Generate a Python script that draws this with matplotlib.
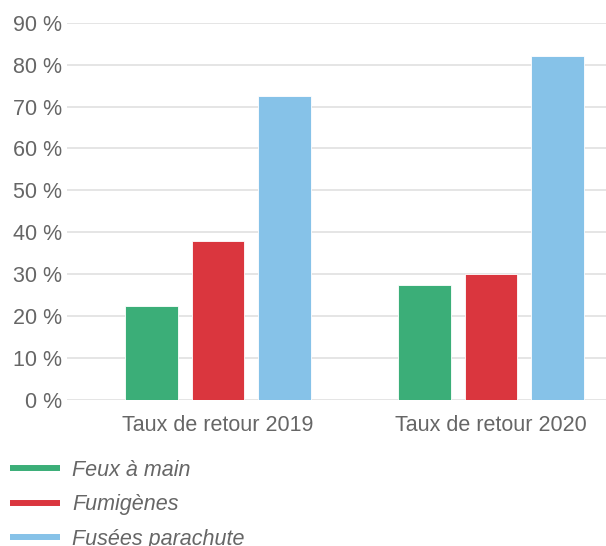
import matplotlib.pyplot as plt
import numpy as np
from matplotlib.lines import Line2D

plt.rcParams['font.family'] = ['Liberation Sans', 'DejaVu Sans']

categories = ['Taux de retour 2019', 'Taux de retour 2020']
series = ['Feux à main', 'Fumigènes', 'Fusées parachute']
feux = [22.4, 27.4]
fumigenes = [37.9, 30.1]
fusees = [72.5, 82.0]
colors = ['#3bae78', '#da363e', '#86c2e8']
yticks = np.arange(0, 100, 10)

fig = plt.figure(figsize=(6.06, 5.46), dpi=100)
ax = fig.add_axes([67 / 606, 1 - 400 / 546, 1 - 67 / 606, (400 - 22.7) / 546])

x = np.arange(len(categories))
offsets = [-0.244, 0, 0.244]
for vals, off, c in zip([feux, fumigenes, fusees], offsets, colors):
    ax.bar(x + off, vals, width=0.193, color=c, edgecolor='white', linewidth=0.6, zorder=3)

ax.set_xlim(-0.553, 1.421)
ax.set_ylim(0, 90)
ax.set_yticks(yticks)
ax.set_yticklabels([f'{v} %' for v in yticks])
ax.set_xticks(x)
ax.set_xticklabels(categories)
ax.grid(axis='y', color='#e0e0e0', linewidth=1.2, zorder=0)
for s in ax.spines.values():
    s.set_visible(False)
ax.tick_params(axis='y', length=0, pad=3.6, labelsize=15.5, labelcolor='#666666')
ax.tick_params(axis='x', length=0, pad=11, labelsize=15.5, labelcolor='#666666')

# legend below the plot, last entry runs off the bottom like the original
handles = [Line2D([0], [0], color=c, lw=4.3, solid_capstyle='butt') for c in colors]
leg = fig.legend(handles, series, loc='upper left',
                 bbox_to_anchor=(10 / 606, 1 - 460 / 546),
                 frameon=False, borderpad=0, borderaxespad=0,
                 handlelength=2.33, handletextpad=0.55, labelspacing=0.62,
                 prop={'size': 15.5, 'style': 'italic'})
for t in leg.get_texts():
    t.set_color('#666666')

fig.savefig('out.png', dpi=100)
